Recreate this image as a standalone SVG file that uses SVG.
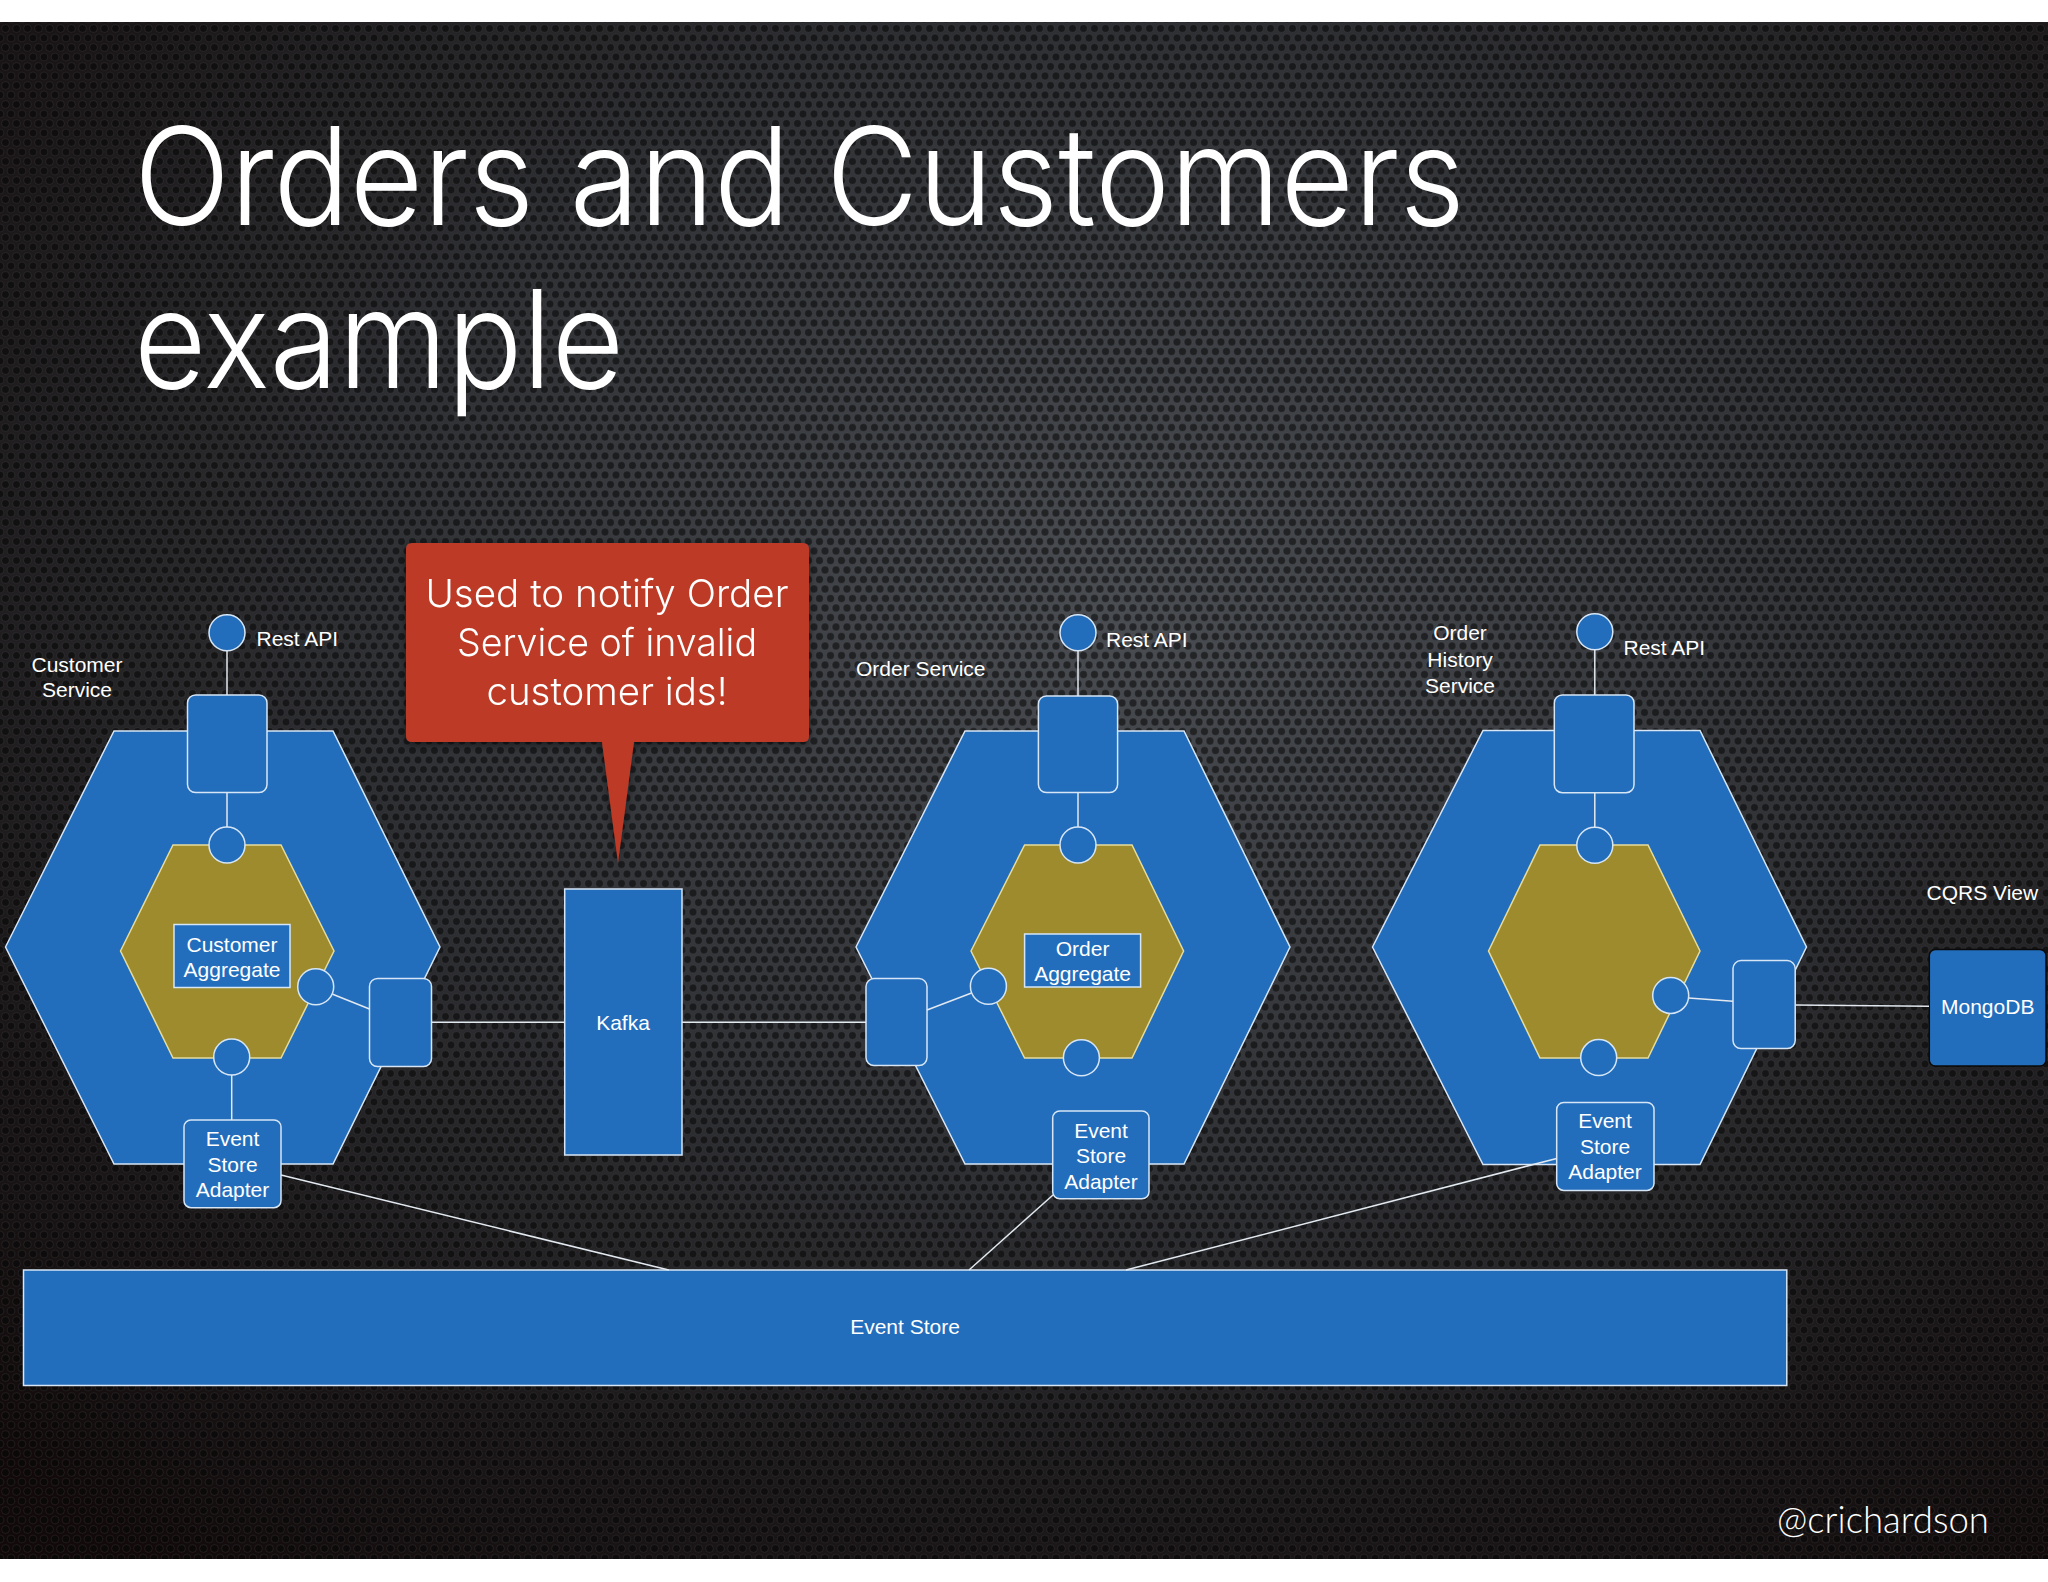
<svg xmlns="http://www.w3.org/2000/svg" width="2048" height="1582" viewBox="0 0 2048 1582">
<defs>
<radialGradient id="bg" cx="0.55" cy="0.38" r="0.78">
<stop offset="0" stop-color="#4a4d52"/>
<stop offset="0.45" stop-color="#303236"/>
<stop offset="0.8" stop-color="#1a1617"/>
<stop offset="1" stop-color="#120a0a"/>
</radialGradient>
<pattern id="holes" width="11" height="19" patternUnits="userSpaceOnUse">
<circle cx="0" cy="0" r="3.9" class="hole"/>
<circle cx="11" cy="0" r="3.9" class="hole"/>
<circle cx="0" cy="19" r="3.9" class="hole"/>
<circle cx="11" cy="19" r="3.9" class="hole"/>
<circle cx="5.5" cy="9.5" r="3.9" class="hole"/>
</pattern>
<filter id="shadow" x="-10%" y="-10%" width="120%" height="130%">
<feDropShadow dx="0" dy="3" stdDeviation="4" flood-color="#000" flood-opacity="0.5"/>
</filter>
</defs>
<style>
.hole{fill:#050505;fill-opacity:0.55;stroke:#8a9099;stroke-opacity:0.12;stroke-width:1}
.hex{fill:#236ebc;stroke:#d6e6f6;stroke-width:1.5}
.core{fill:#9d8b2d;stroke:#e6dc9c;stroke-width:1.5}
.box{fill:#236ebc;stroke:#d6e6f6;stroke-width:1.5}
.port{fill:#236ebc;stroke:#d6e6f6;stroke-width:1.5}
.conn{stroke:#e2e9f0;stroke-width:1.5;fill:none}
.lbl{font-family:"Liberation Sans",Arial,sans-serif;font-size:21px;fill:#ffffff}
.mid{text-anchor:middle}
.title{font-family:Inter,"Liberation Sans",sans-serif;font-weight:300;font-size:136px;fill:#ffffff}
.call{font-family:Inter,"Liberation Sans",sans-serif;font-weight:300;font-size:38px;fill:#ffffff;text-anchor:middle}
.handle{font-family:Lato,"Liberation Sans",sans-serif;font-weight:300;font-size:38px;fill:#ffffff}
</style>
<rect x="0" y="0" width="2048" height="1582" fill="#ffffff"/>
<rect x="0" y="22" width="2048" height="1537" fill="url(#bg)"/>
<rect x="0" y="22" width="2048" height="1537" fill="url(#holes)"/>

<text class="title" x="134" y="225" textLength="1331" lengthAdjust="spacingAndGlyphs">Orders and Customers</text>
<text class="title" x="134" y="388" textLength="490" lengthAdjust="spacingAndGlyphs">example</text>

<g id="customer-service">
<polygon class="hex" points="5.5,947 114,731 333,731 440,947 333,1164 114,1164"/>
<polygon class="core" points="120.5,951 173,845 281,845 334,951 281,1058 173,1058"/>
<text class="lbl mid" x="77" y="672">Customer</text>
<text class="lbl mid" x="77" y="697">Service</text>
</g>
<g id="customer-rest-api">
<circle class="port" cx="227" cy="632.7" r="18"/>
<text class="lbl" x="256.5" y="646">Rest API</text>
</g>
<g id="customer-rest-adapter"><rect class="box" x="187.5" y="695" width="79.5" height="97.5" rx="8"/></g>
<g id="customer-aggregate">
<circle class="port" cx="227" cy="845" r="18"/>
<circle class="port" cx="315.7" cy="986.7" r="18"/>
<circle class="port" cx="231.7" cy="1057" r="18"/>
<rect class="box" x="174" y="924.5" width="116" height="63" rx="0"/>
<text class="lbl mid" x="232" y="952">Customer</text>
<text class="lbl mid" x="232" y="977">Aggregate</text>
</g>
<g id="customer-kafka-adapter"><rect class="box" x="369.5" y="978.5" width="62" height="88" rx="8"/></g>
<g id="customer-event-store-adapter">
<rect class="box" x="184" y="1120" width="97" height="87.7" rx="7"/>
<text class="lbl mid" x="232.5" y="1146">Event</text>
<text class="lbl mid" x="232.5" y="1171.5">Store</text>
<text class="lbl mid" x="232.5" y="1197">Adapter</text>
</g>

<g id="callout" filter="url(#shadow)">
<path d="M412,543 H803 Q809,543 809,549 V736 Q809,742 803,742 H634 L618,863 L602,742 H412 Q406,742 406,736 V549 Q406,543 412,543 Z" fill="#bd3b26"/>
<text class="call" x="607" y="607" textLength="363" lengthAdjust="spacingAndGlyphs">Used to notify Order</text>
<text class="call" x="607" y="656" textLength="300" lengthAdjust="spacingAndGlyphs">Service of invalid</text>
<text class="call" x="607" y="705" textLength="241" lengthAdjust="spacingAndGlyphs">customer ids!</text>
</g>

<g id="kafka">
<rect class="box" x="564.7" y="889" width="117.3" height="266"/>
<text class="lbl mid" x="623" y="1030">Kafka</text>
</g>

<g id="order-service">
<polygon class="hex" points="856,947 965,731 1184,731 1290,947 1184,1164 965,1164"/>
<polygon class="core" points="971,951 1024.6,845 1132,845 1183.6,951 1132,1058 1024.6,1058"/>
<text class="lbl" x="856" y="676">Order Service</text>
</g>
<g id="order-rest-api">
<circle class="port" cx="1078" cy="632.7" r="18"/>
<text class="lbl" x="1106" y="647">Rest API</text>
</g>
<g id="order-rest-adapter"><rect class="box" x="1038.4" y="696" width="79.2" height="96.5" rx="8"/></g>
<g id="order-aggregate">
<circle class="port" cx="1078" cy="845" r="18"/>
<circle class="port" cx="988.4" cy="986.3" r="18"/>
<circle class="port" cx="1081.4" cy="1057.7" r="18"/>
<rect class="box" x="1024.6" y="934" width="116" height="53"/>
<text class="lbl mid" x="1082.6" y="956">Order</text>
<text class="lbl mid" x="1082.6" y="981">Aggregate</text>
</g>
<g id="order-kafka-adapter"><rect class="box" x="866" y="978.6" width="61" height="87" rx="8"/></g>
<g id="order-event-store-adapter">
<rect class="box" x="1052.7" y="1111" width="96.3" height="87.8" rx="7"/>
<text class="lbl mid" x="1101" y="1138">Event</text>
<text class="lbl mid" x="1101" y="1163">Store</text>
<text class="lbl mid" x="1101" y="1188.5">Adapter</text>
</g>

<g id="order-history-service">
<polygon class="hex" points="1372.5,947 1483,730.5 1700,730.5 1806.5,947 1700,1164.5 1483,1164.5"/>
<polygon class="core" points="1488.5,951 1540,845 1648,845 1700,951 1648,1058 1540,1058"/>
<text class="lbl mid" x="1460" y="640">Order</text>
<text class="lbl mid" x="1460" y="667">History</text>
<text class="lbl mid" x="1460" y="693">Service</text>
</g>
<g id="history-rest-api">
<circle class="port" cx="1594.8" cy="631.8" r="18"/>
<text class="lbl" x="1623.5" y="655">Rest API</text>
</g>
<g id="history-rest-adapter"><rect class="box" x="1554.3" y="695" width="79.7" height="97.7" rx="8"/></g>
<g id="history-view-core">
<circle class="port" cx="1594.8" cy="845.3" r="18"/>
<circle class="port" cx="1670.7" cy="995.4" r="18"/>
<circle class="port" cx="1598.7" cy="1057.6" r="18"/>
</g>
<g id="history-mongo-adapter"><rect class="box" x="1733" y="960.6" width="62.2" height="88" rx="8"/></g>
<g id="history-event-store-adapter">
<rect class="box" x="1556.7" y="1102.4" width="97.3" height="88" rx="7"/>
<text class="lbl mid" x="1605" y="1128">Event</text>
<text class="lbl mid" x="1605" y="1154">Store</text>
<text class="lbl mid" x="1605" y="1179">Adapter</text>
</g>

<g id="mongodb">
<text class="lbl" x="1926.5" y="900">CQRS View</text>
<rect x="1929.3" y="949.5" width="116.7" height="116.5" rx="6" fill="#236ebc" stroke="#0a0a0a" stroke-width="1.5"/>
<text class="lbl mid" x="1987.7" y="1014">MongoDB</text>
</g>

<g id="event-store">
<rect class="box" x="23.5" y="1270" width="1763.3" height="115.5"/>
<text class="lbl mid" x="905" y="1334">Event Store</text>
</g>

<g id="connectors">
<line class="conn" x1="227" y1="650.7" x2="227" y2="695"/>
<line class="conn" x1="227" y1="792.5" x2="227" y2="827"/>
<line class="conn" x1="332.7" y1="994.3" x2="369.5" y2="1009"/>
<line class="conn" x1="431.5" y1="1022.3" x2="564.7" y2="1022.3"/>
<line class="conn" x1="231.7" y1="1075" x2="231.7" y2="1120"/>
<line class="conn" x1="281" y1="1175" x2="668.8" y2="1270"/>
<line class="conn" x1="682" y1="1022.3" x2="866" y2="1022.3"/>
<line class="conn" x1="1078" y1="650.7" x2="1078" y2="696"/>
<line class="conn" x1="1078" y1="792.5" x2="1078" y2="827"/>
<line class="conn" x1="927" y1="1010" x2="971.5" y2="993"/>
<line class="conn" x1="1053" y1="1195" x2="969" y2="1270"/>
<line class="conn" x1="1594.8" y1="649.8" x2="1594.8" y2="695"/>
<line class="conn" x1="1594.8" y1="792.7" x2="1594.8" y2="827.3"/>
<line class="conn" x1="1688.6" y1="997.9" x2="1733" y2="1001.2"/>
<line class="conn" x1="1795.2" y1="1005" x2="1929" y2="1006.2"/>
<line class="conn" x1="1556.7" y1="1158.4" x2="1126" y2="1270"/>
</g>

<text class="handle" x="1777" y="1533" textLength="212" lengthAdjust="spacingAndGlyphs">@crichardson</text>
</svg>
